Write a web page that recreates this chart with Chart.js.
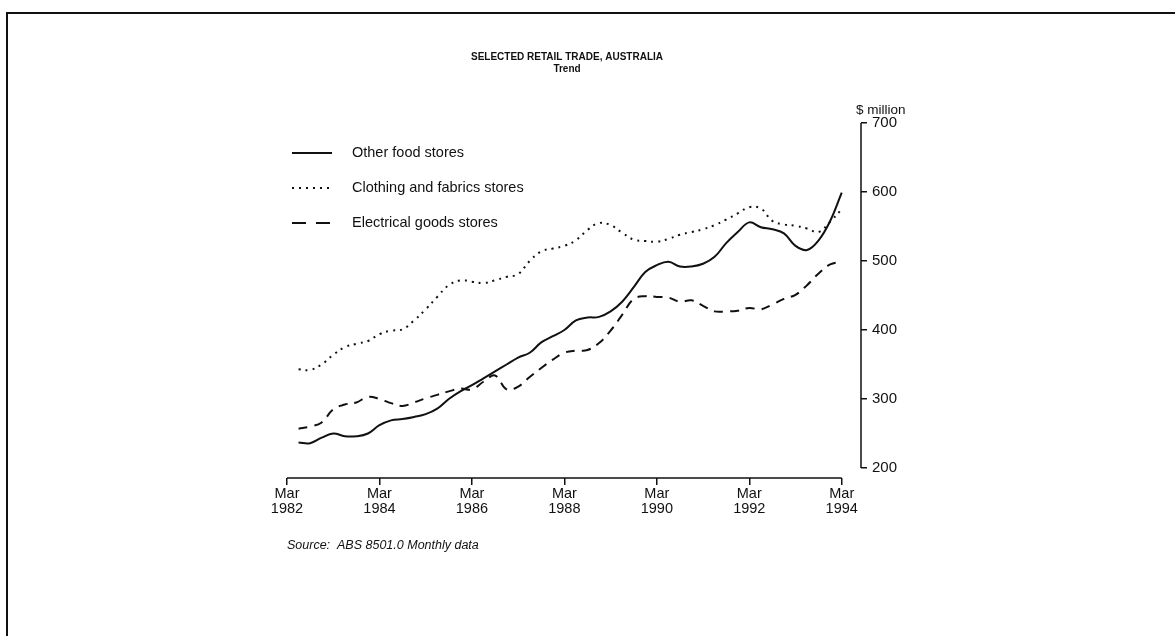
<!DOCTYPE html>
<html>
<head>
<meta charset="utf-8">
<title>Selected retail trade, Australia</title>
<script src="https://cdn.jsdelivr.net/npm/chart.js@4.4.1/dist/chart.umd.min.js"></script>
<style>
  html, body { margin: 0; padding: 0; background: #fff; }
  #wrap { position: relative; width: 1175px; height: 636px; overflow: hidden; }
  #frame { position: absolute; left: 6px; top: 12px; width: 1180px; height: 640px;
           border-top: 2px solid #111; border-left: 2px solid #111; }
  #chart { position: absolute; left: 0; top: 0; }
</style>
</head>
<body>
<div id="wrap">
  <div id="frame"></div>
  <canvas id="chart" width="1175" height="636"></canvas>
</div>
<script>
// quarterly readings, $ million (trend)
const periods = [
  'Jun 1982', 'Sep 1982', 'Dec 1982',
  'Mar 1983', 'Jun 1983', 'Sep 1983', 'Dec 1983',
  'Mar 1984', 'Jun 1984', 'Sep 1984', 'Dec 1984',
  'Mar 1985', 'Jun 1985', 'Sep 1985', 'Dec 1985',
  'Mar 1986', 'Jun 1986', 'Sep 1986', 'Dec 1986',
  'Mar 1987', 'Jun 1987', 'Sep 1987', 'Dec 1987',
  'Mar 1988', 'Jun 1988', 'Sep 1988', 'Dec 1988',
  'Mar 1989', 'Jun 1989', 'Sep 1989', 'Dec 1989',
  'Mar 1990', 'Jun 1990', 'Sep 1990', 'Dec 1990',
  'Mar 1991', 'Jun 1991', 'Sep 1991', 'Dec 1991',
  'Mar 1992', 'Jun 1992', 'Sep 1992', 'Dec 1992',
  'Mar 1993', 'Jun 1993', 'Sep 1993', 'Dec 1993',
  'Mar 1994'
];
const otherFood = [
  237, 236, 244,
  250, 246, 246, 250,
  262, 269, 271, 274,
  278, 286, 300, 311,
  320, 330, 340, 350,
  360, 367, 382, 391,
  400, 414, 418, 419,
  427, 441, 462, 484,
  494, 499, 492, 492,
  496, 506, 526, 542,
  556, 549, 546, 540,
  522, 516, 530, 558,
  599
];
const clothing = [
  343, 342, 350,
  364, 375, 380, 384,
  394, 399, 401, 414,
  430, 448, 465, 472,
  470, 468, 472, 477,
  481, 500, 514, 518,
  522, 530, 545, 555,
  552, 541, 531, 529,
  528, 532, 538, 542,
  546, 552, 560, 569,
  578, 576, 558, 553,
  551, 547, 542, 557,
  575
];
const electrical = [
  257, 260, 266,
  285, 292, 295, 303,
  300, 294, 290, 295,
  301, 306, 311, 315,
  314, 325, 334, 314,
  318, 332, 345, 357,
  367, 370, 371, 381,
  399, 422, 445, 449,
  448, 447, 441, 443,
  435, 427, 427, 428,
  432, 430, 437, 445,
  451, 465, 482, 495,
  499
];
const seriesNames = ['Other food stores', 'Clothing and fabrics stores', 'Electrical goods stores'];
const xTickLabels = ['Mar 1982', 'Mar 1984', 'Mar 1986', 'Mar 1988', 'Mar 1990', 'Mar 1992', 'Mar 1994'];
const yTickValues = [200, 300, 400, 500, 600, 700];

const FONT = '"Liberation Sans", Arial, Helvetica, sans-serif';
const INK = '#111';

const monthIndex = { Jan: 0, Feb: 1, Mar: 2, Apr: 3, May: 4, Jun: 5, Jul: 6, Aug: 7, Sep: 8, Oct: 9, Nov: 10, Dec: 11 };
function toYear(label) {
  const [m, y] = label.split(' ');
  return Number(y) + monthIndex[m] / 12;
}
const xs = periods.map(toYear);
const pts = (vals) => vals.map((v, i) => ({ x: xs[i], y: v }));

// line styles
const styles = [
  { dash: [], legendDash: [] },
  { dash: [2, 5], legendDash: [2, 5] },
  { dash: [9, 7], legendDash: [14, 10] },
];

// titles, unit, source and legend
const notes = {
  id: 'notes',
  afterDraw(chart) {
    const { ctx, chartArea } = chart;
    ctx.save();
    ctx.fillStyle = INK;
    ctx.textBaseline = 'middle';

    ctx.textAlign = 'center';
    ctx.font = 'bold 10px ' + FONT;
    ctx.fillText('SELECTED RETAIL TRADE, AUSTRALIA', 567, 57);
    ctx.fillText('Trend', 567, 69);

    ctx.textAlign = 'left';
    ctx.font = '13.5px ' + FONT;
    ctx.fillText('$ million', 856, 110);

    ctx.font = 'italic 12.5px ' + FONT;
    ctx.fillText('Source:  ABS 8501.0 Monthly data', chartArea.left, 546);

    // legend
    ctx.font = '14.5px ' + FONT;
    chart.data.datasets.forEach((ds, i) => {
      const y = 153 + i * 35;
      ctx.save();
      ctx.strokeStyle = INK;
      ctx.lineWidth = 2;
      ctx.setLineDash(styles[i].legendDash);
      ctx.beginPath();
      ctx.moveTo(292, y);
      ctx.lineTo(332, y);
      ctx.stroke();
      ctx.restore();
      ctx.fillText(ds.label, 352, y);
    });
    ctx.restore();
  }
};

// axis lines that stop at the first / last tick, like the print
const axisLines = {
  id: 'axisLines',
  afterDraw(chart) {
    const { ctx, chartArea, scales: { x, y } } = chart;
    ctx.save();
    ctx.strokeStyle = INK;
    ctx.lineWidth = 1.5;
    ctx.beginPath();
    ctx.moveTo(x.getPixelForValue(toYear(xTickLabels[0])), chartArea.bottom);
    ctx.lineTo(x.getPixelForValue(toYear(xTickLabels[xTickLabels.length - 1])), chartArea.bottom);
    ctx.moveTo(chartArea.right, y.getPixelForValue(yTickValues[yTickValues.length - 1]));
    ctx.lineTo(chartArea.right, y.getPixelForValue(yTickValues[0]));
    ctx.stroke();
    ctx.restore();
  }
};

const ctx = document.getElementById('chart').getContext('2d');
new Chart(ctx, {
  type: 'line',
  data: {
    datasets: [
      { label: seriesNames[0], data: pts(otherFood), borderDash: styles[0].dash },
      { label: seriesNames[1], data: pts(clothing), borderDash: styles[1].dash },
      { label: seriesNames[2], data: pts(electrical), borderDash: styles[2].dash },
    ],
  },
  options: {
    responsive: false,
    animation: false,
    layout: { padding: { left: 287, top: 123, right: 264, bottom: 118 } },
    elements: {
      point: { radius: 0 },
      line: { tension: 0.4, borderColor: INK, borderWidth: 2, fill: false },
    },
    plugins: {
      legend: { display: false },
      tooltip: { enabled: false },
    },
    scales: {
      x: {
        type: 'linear',
        min: toYear('Mar 1982'),
        max: toYear('Aug 1994'),
        afterBuildTicks: (s) => { s.ticks = xTickLabels.map((l) => ({ value: toYear(l) })); },
        afterFit: (s) => { s.height = 40; },
        grid: { display: true, drawOnChartArea: false, drawTicks: true, tickLength: 7, color: INK, lineWidth: 1.5 },
        border: { display: false },
        ticks: {
          autoSkip: false,
          maxRotation: 0,
          padding: 2,
          color: INK,
          font: { family: FONT, size: 14.5, lineHeight: 1.0 },
          callback: (v, i) => xTickLabels[i].split(' '),
        },
      },
      y: {
        position: 'right',
        min: 185.5,
        max: 700,
        afterBuildTicks: (s) => { s.ticks = yTickValues.map((v) => ({ value: v })); },
        afterFit: (s) => { s.width = 50; },
        grid: { display: true, drawOnChartArea: false, drawTicks: true, tickLength: 6, color: INK, lineWidth: 1.5 },
        border: { display: false },
        ticks: {
          padding: 5,
          color: INK,
          font: { family: FONT, size: 15 },
        },
      },
    },
  },
  plugins: [notes, axisLines],
});
</script>
</body>
</html>
